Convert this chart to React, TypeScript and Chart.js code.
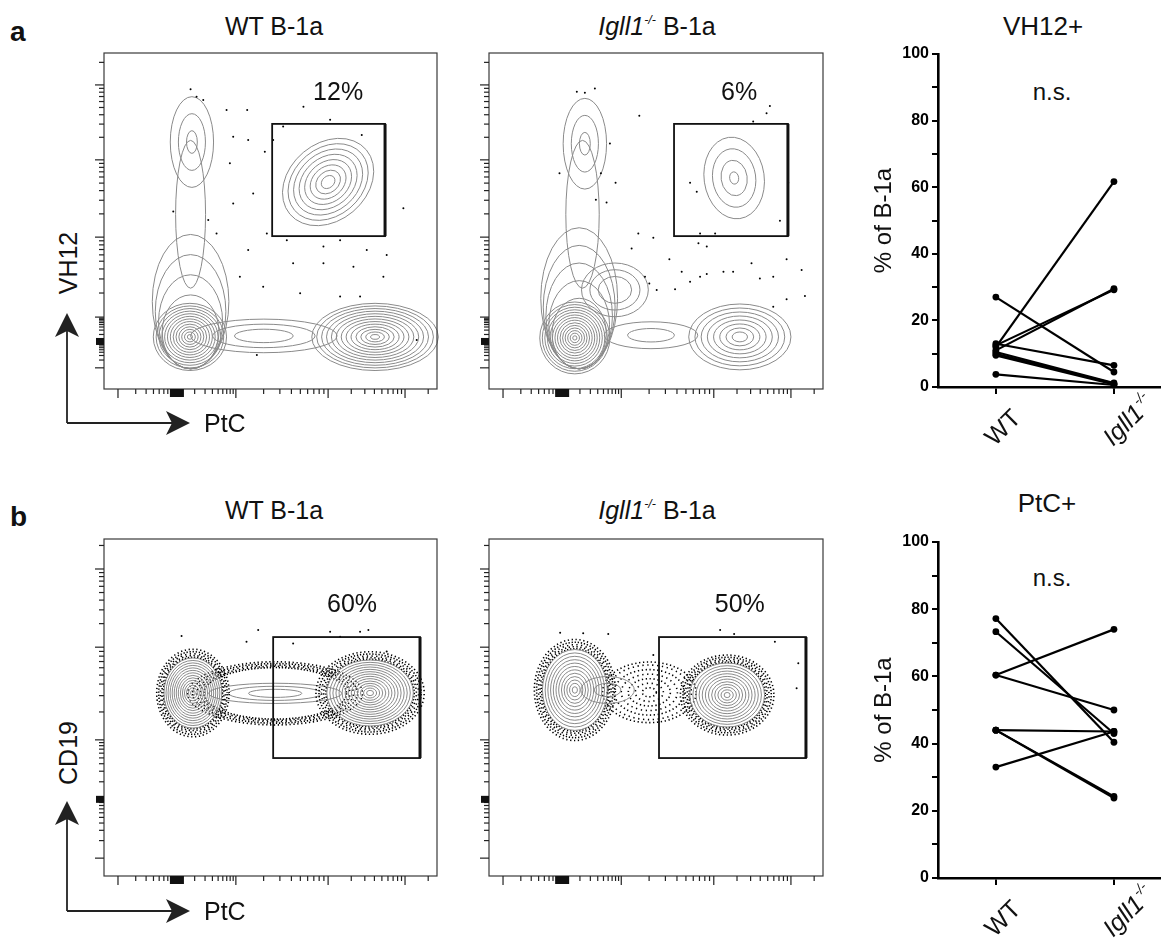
import React, { useEffect, useRef } from 'react';
import { Chart, registerables } from 'chart.js';
Chart.register(...registerables);

const FONT = '"Liberation Sans", Arial, Helvetica, sans-serif';

// ---------- paired dot plots ----------
const groupPos = [0, 1];
const groupLabels = ['WT', 'Igll1'];
const koSuffix = '-/-';
const vh12WT = [27, 12, 11, 12.5, 13, 10.5, 10, 9.5, 3.8];
const vh12KO = [4.5, 61.7, 29.5, 29.2, 6.5, 1.2, 1.0, 0.8, 0.6];
const ptcWT = [77.2, 73.3, 60.4, 60.4, 44.0, 44.0, 44.0, 33.0];
const ptcKO = [40.4, 43.0, 74.0, 50.0, 43.6, 24.3, 23.8, 43.6];
const pctTicks = [0, 10, 20, 30, 40, 50, 60, 70, 80, 90, 100];
const pctLabels = ['0', '', '20', '', '40', '', '60', '', '80', '', '100'];

// ---------- flow plots (display units 0..100 on both axes) ----------
const flowXMajor = [4.2, 39.6, 67.3, 90.4];
const flowXZero = 21.9;
const flowYMajorA = [6.3, 21.4, 45.2, 68.2, 90.5];
const flowYZeroA = 14;
const flowYMajorB = [5.3, 40.4, 67.9, 91.1];
const flowYZeroB = 22.6;

// population contours: [cx, cy, rx, ry, tiltDeg, levels, innerFrac, halo, anchor]
const popsVH12WT = [
  [26.4, 73.5, 6.5, 13.5, 0, 3, 0.25, 0, 0],
  [26.0, 52.0, 4.5, 22.0, 0, 1, 1, 0, 0],
  [26.0, 26.0, 11.5, 20.0, 0, 4, 0.55, 0, 1],
  [25.8, 15.5, 11.0, 10.0, 0, 13, 0.07, 0, 0],
  [48.0, 15.8, 22.0, 5.0, 0, 3, 0.4, 0, 0],
  [81.4, 15.5, 19.0, 10.0, 0, 13, 0.07, 0, 0],
  [67.3, 61.6, 15.0, 11.5, 40, 8, 0.15, 0, 0],
];
const popsVH12KO = [
  [28.7, 73.0, 6.5, 13.5, 0, 3, 0.25, 0, 0],
  [28.0, 52.0, 5.0, 22.0, 0, 1, 1, 0, 0],
  [27.0, 27.0, 11.5, 21.0, 0, 5, 0.5, 0, 1],
  [37.7, 29.5, 10.0, 8.0, 0, 3, 0.5, 0, 0],
  [25.7, 15.2, 10.5, 10.7, 0, 14, 0.06, 0, 0],
  [48.5, 16.0, 14.0, 4.0, 0, 2, 0.5, 0, 0],
  [75.1, 15.5, 15.3, 9.8, 0, 8, 0.15, 0, 0],
  [73.4, 62.8, 9.0, 12.2, 8, 4, 0.15, 0, 0],
];
const popsPtcWT = [
  [51.4, 54.2, 21.0, 7.5, 0, 0, 0, 1, 0],
  [51.4, 54.2, 20.0, 3.0, 0, 3, 0.4, 0, 0],
  [26.7, 54.3, 8.7, 10.4, 0, 14, 0.08, 1, 0],
  [79.9, 54.3, 13.0, 9.8, 0, 14, 0.08, 1, 0],
];
const popsPtcKO = [
  [48.0, 54.5, 14.0, 9.0, 0, 0, 0, 2, 0],
  [25.7, 55.2, 9.7, 12.0, 0, 12, 0.08, 1, 0],
  [35.5, 55.2, 8.0, 4.0, 0, 2, 0.5, 0, 0],
  [71.3, 53.7, 11.2, 9.5, 0, 12, 0.08, 1, 0],
];

// sparse events outside the contours: [x, y]
const dotsVH12WT = [
  [26.0, 89.2], [27.8, 87.0], [29.8, 86.0], [36.8, 83.0], [43.0, 83.0], [59.9, 84.0],
  [38.8, 75.1], [43.3, 74.1], [48.3, 70.6], [37.8, 67.2], [44.8, 58.2], [20.8, 52.8],
  [31.3, 50.3], [33.8, 46.3], [43.3, 41.4], [48.9, 46.3], [54.9, 44.3], [65.9, 42.4],
  [70.9, 44.3], [78.9, 41.4], [84.9, 39.9], [56.8, 37.4], [65.9, 37.4], [74.9, 36.4],
  [83.9, 33.4], [40.8, 33.4], [47.8, 30.4], [58.9, 28.5], [70.9, 27.5], [76.9, 27.5],
  [89.9, 53.8], [53.8, 78.1], [67.9, 80.1], [77.4, 75.6], [50.8, 74.1], [38.8, 55.2],
  [45.9, 10.1], [93.9, 14.6],
];
const dotsVH12KO = [
  [26.3, 88.5], [28.7, 88.2], [31.7, 89.4], [45.0, 81.3], [36.2, 73.1], [33.5, 64.2],
  [37.9, 61.4], [21.1, 64.2], [32.0, 56.3], [35.2, 55.5], [44.7, 46.3], [49.2, 45.0],
  [42.7, 41.8], [54.0, 38.6], [46.7, 33.4], [48.0, 31.4], [57.7, 34.9], [60.2, 31.9],
  [63.2, 33.4], [65.2, 34.2], [70.2, 34.9], [73.1, 34.9], [78.6, 37.4], [81.1, 32.9],
  [85.1, 33.4], [89.1, 38.6], [93.6, 35.4], [94.6, 27.7], [89.1, 26.7], [85.1, 24.5],
  [50.2, 29.5], [55.7, 29.7], [62.7, 43.4], [65.2, 42.4], [84.1, 84.2], [83.1, 82.1],
  [79.1, 79.6], [89.6, 61.4], [60.2, 61.4], [62.2, 58.7], [87.1, 50.1], [63.2, 46.3],
  [67.7, 46.3],
];
const dotsPtcWT = [
  [23.3, 71.2], [46.3, 73.0], [67.9, 72.5], [76.9, 72.5], [79.4, 73.0], [70.9, 71.0],
  [56.8, 69.0], [84.9, 66.6], [42.8, 69.5],
];
const dotsPtcKO = [
  [21.3, 72.2], [28.2, 72.0], [35.7, 71.8], [69.2, 73.0], [73.4, 71.8], [85.6, 69.5],
  [92.6, 63.1], [92.1, 55.7], [49.2, 65.6],
];

// gates: [xMin, xMax, yMin, yMax] and percentage labels [text, x, y]
const gateVH12WT = [50.5, 84.4, 45.5, 78.9];
const gateVH12KO = [55.4, 89.5, 45.5, 78.9];
const gatePtcWT = [50.8, 94.9, 35.0, 70.9];
const gatePtcKO = [50.9, 94.9, 35.0, 70.9];
const labelVH12WT: [string, number, number] = ['12%', 70.3, 88.0];
const labelVH12KO: [string, number, number] = ['6%', 74.9, 88.0];
const labelPtcWT: [string, number, number] = ['60%', 74.5, 80.4];
const labelPtcKO: [string, number, number] = ['50%', 75.1, 80.4];

function minorTicks(majors: number[], zero: number): number[] {
  const pts = [...majors, zero].sort((a, b) => a - b);
  const out: number[] = [];
  for (let i = 0; i < pts.length - 1; i++) {
    const lo = pts[i], hi = pts[i + 1];
    for (let k = 2; k <= 9; k++) out.push(lo + Math.log10(k) * (hi - lo));
  }
  const last = pts[pts.length - 1], prev = pts[pts.length - 2];
  for (let k = 2; k <= 9; k++) {
    const v = last + Math.log10(k) * (last - prev);
    if (v <= 100) out.push(v);
  }
  return out;
}

const PAD = 20;

type FlowProps = {
  box: { left: number; top: number; w: number; h: number };
  pops: number[][];
  dots: number[][];
  gate: number[];
  label: [string, number, number];
  yMajor: number[];
  yZero: number;
};

function FlowPlot({ box, pops, dots, gate, label, yMajor, yZero }: FlowProps) {
  const ref = useRef<HTMLCanvasElement>(null);
  useEffect(() => {
    const decor = {
      id: 'flowDecor',
      beforeDatasetsDraw(chart: any) {
        const ctx = chart.ctx as CanvasRenderingContext2D;
        const xs = chart.scales.x, ys = chart.scales.y;
        const X = (v: number) => xs.getPixelForValue(v);
        const Y = (v: number) => ys.getPixelForValue(v);
        ctx.save();
        for (const p of pops) {
          const [cx, cy, rx, ry, ang, levels, inner, halo, anchor] = p;
          const px = X(cx), py = Y(cy);
          const rpx = X(cx + rx) - px, rpy = py - Y(cy + ry);
          const rot = (-ang * Math.PI) / 180;
          if (halo) {
            ctx.strokeStyle = '#000';
            ctx.lineWidth = 1.6;
            const rings = halo === 2 ? [0.15, 0.3, 0.45, 0.6, 0.75, 0.9, 1.0] : [1.02, 1.07, 1.12, 1.18, 1.25];
            rings.forEach((f, i) => {
              ctx.setLineDash([1.3, halo === 2 ? 2.6 + (i % 2) : 1.8 + (i % 3) * 0.8]);
              ctx.lineDashOffset = i * 1.7;
              ctx.beginPath();
              ctx.ellipse(px, py, rpx * f, rpy * f, rot, 0, Math.PI * 2);
              ctx.stroke();
            });
            ctx.setLineDash([]);
          }
          ctx.strokeStyle = '#8a8a8a';
          ctx.lineWidth = 1;
          for (let i = 0; i < levels; i++) {
            const f = levels === 1 ? 1 : 1 - (i * (1 - inner)) / (levels - 1);
            let ex = rpx * f, ey = rpy * f, ecy = py;
            if (anchor === 1) {
              ex = rpx * Math.sqrt(f);
              ecy = py + rpy - rpy * f;
            }
            ctx.beginPath();
            ctx.ellipse(px, ecy, ex, ey, rot, 0, Math.PI * 2);
            ctx.stroke();
          }
        }
        ctx.restore();
      },
      afterDatasetsDraw(chart: any) {
        const ctx = chart.ctx as CanvasRenderingContext2D;
        const a = chart.chartArea;
        const xs = chart.scales.x, ys = chart.scales.y;
        const X = (v: number) => xs.getPixelForValue(v);
        const Y = (v: number) => ys.getPixelForValue(v);
        ctx.save();
        ctx.strokeStyle = '#3a3a3a';
        ctx.lineWidth = 1.2;
        ctx.strokeRect(a.left, a.top, a.right - a.left, a.bottom - a.top);
        ctx.strokeStyle = '#222';
        ctx.lineWidth = 1.2;
        const tick = (x1: number, y1: number, x2: number, y2: number) => {
          ctx.beginPath(); ctx.moveTo(x1, y1); ctx.lineTo(x2, y2); ctx.stroke();
        };
        flowXMajor.forEach((v) => tick(X(v), a.bottom, X(v), a.bottom + 9));
        minorTicks(flowXMajor, flowXZero).forEach((v) => tick(X(v), a.bottom, X(v), a.bottom + 5));
        yMajor.forEach((v) => tick(a.left - 9, Y(v), a.left, Y(v)));
        minorTicks(yMajor, yZero).forEach((v) => tick(a.left - 5, Y(v), a.left, Y(v)));
        ctx.fillStyle = '#111';
        ctx.fillRect(X(flowXZero) - 7, a.bottom, 14, 8);
        ctx.fillRect(a.left - 8, Y(yZero) - 4, 8, 7);
        const [gx1, gx2, gy1, gy2] = gate;
        ctx.strokeStyle = '#111';
        ctx.lineWidth = 1.8;
        ctx.strokeRect(X(gx1), Y(gy2), X(gx2) - X(gx1), Y(gy1) - Y(gy2));
        ctx.lineWidth = 3;
        tick(X(gx2), Y(gy2), X(gx2), Y(gy1));
        ctx.fillStyle = '#111';
        ctx.font = `25px ${FONT}`;
        ctx.textAlign = 'center';
        ctx.textBaseline = 'middle';
        ctx.fillText(label[0], X(label[1]), Y(label[2]));
        ctx.restore();
      },
    };
    const chart = new Chart(ref.current as HTMLCanvasElement, {
      type: 'scatter',
      data: {
        datasets: [
          {
            data: dots.map(([x, y]) => ({ x, y })),
            pointRadius: 1,
            pointBorderWidth: 0,
            pointBackgroundColor: '#000',
            showLine: false,
          },
        ],
      },
      options: {
        responsive: false,
        animation: false,
        events: [],
        layout: { padding: PAD },
        scales: {
          x: { type: 'linear', min: 0, max: 100, display: false },
          y: { type: 'linear', min: 0, max: 100, display: false },
        },
        plugins: { legend: { display: false }, tooltip: { enabled: false } },
      },
      plugins: [decor],
    } as any);
    return () => chart.destroy();
  }, []);
  return (
    <canvas
      ref={ref}
      width={box.w + 2 * PAD}
      height={box.h + 2 * PAD}
      style={{ position: 'absolute', left: box.left - PAD, top: box.top - PAD, width: box.w + 2 * PAD, height: box.h + 2 * PAD }}
    />
  );
}

type PairedProps = { left: number; top: number; width: number; height: number; padTop: number; axisH: number; wt: number[]; ko: number[] };

function PairedPlot({ left, top, width, height, padTop, axisH, wt, ko }: PairedProps) {
  const ref = useRef<HTMLCanvasElement>(null);
  useEffect(() => {
    const xLabels = {
      id: 'xLabels',
      afterDraw(chart: any) {
        const ctx = chart.ctx as CanvasRenderingContext2D;
        const xs = chart.scales.x;
        const bottom = chart.chartArea.bottom;
        ctx.save();
        ctx.fillStyle = '#111';
        ctx.textBaseline = 'alphabetic';
        ctx.textAlign = 'left';
        groupPos.forEach((v, i) => {
          const main = groupLabels[i];
          const isKO = i === 1;
          ctx.save();
          ctx.translate(xs.getPixelForValue(v) - 1, bottom + 60);
          ctx.rotate(-Math.PI / 4);
          ctx.font = `${isKO ? 'italic ' : ''}25px ${FONT}`;
          ctx.fillText(main, 0, 0);
          if (isKO) {
            const w1 = ctx.measureText(main).width;
            ctx.font = `italic 14px ${FONT}`;
            ctx.fillText(koSuffix, w1 + 1, -11);
          }
          ctx.restore();
        });
        ctx.restore();
      },
    };
    const chart = new Chart(ref.current as HTMLCanvasElement, {
      type: 'scatter',
      data: {
        datasets: wt.map((w, i) => ({
          data: [
            { x: groupPos[0], y: w },
            { x: groupPos[1], y: ko[i] },
          ],
          showLine: true,
          borderColor: '#000',
          borderWidth: 2.2,
          pointRadius: 3.4,
          pointBorderWidth: 0,
          pointBackgroundColor: '#000',
          clip: false,
        })),
      },
      options: {
        responsive: false,
        animation: false,
        events: [],
        layout: { padding: { top: padTop, right: 4, left: 0, bottom: 0 } },
        scales: {
          x: {
            type: 'linear',
            min: -0.49,
            max: 1.39,
            afterBuildTicks: (s: any) => {
              s.ticks = groupPos.map((value) => ({ value }));
            },
            afterFit: (s: any) => {
              s.height = axisH;
            },
            ticks: { callback: () => '', padding: 0 },
            grid: { drawOnChartArea: false, color: '#000', lineWidth: 2, tickLength: 7 },
            border: { color: '#000', width: 2.6 },
          },
          y: {
            type: 'linear',
            min: 0,
            max: 100,
            afterBuildTicks: (s: any) => {
              s.ticks = pctTicks.map((value) => ({ value }));
            },
            afterFit: (s: any) => {
              s.width = 78;
            },
            ticks: {
              autoSkip: false,
              callback: (_v: any, idx: number) => pctLabels[idx],
              color: '#000',
              font: { family: FONT, size: 16, weight: 'bold' },
              padding: 3,
            },
            grid: { drawOnChartArea: false, color: '#000', lineWidth: 2, tickLength: 6 },
            border: { color: '#000', width: 2.6 },
            title: {
              display: true,
              text: '% of B-1a',
              color: '#111',
              font: { family: FONT, size: 24 },
              padding: { top: 10, bottom: 0 },
            },
          },
        },
        plugins: { legend: { display: false }, tooltip: { enabled: false } },
      },
      plugins: [xLabels],
    } as any);
    return () => chart.destroy();
  }, []);
  return <canvas ref={ref} width={width} height={height} style={{ position: 'absolute', left, top, width, height }} />;
}

function Txt({ x, y, size, children, bold, anchor = 'center', rotate = 0 }: any) {
  const tx = anchor === 'center' ? '-50%' : '0';
  return (
    <div
      style={{
        position: 'absolute',
        left: x,
        top: y,
        fontSize: size,
        lineHeight: 1,
        fontWeight: bold ? 'bold' : 'normal',
        whiteSpace: 'nowrap',
        transform: `translate(${tx}, -50%)${rotate ? ` rotate(${rotate}deg)` : ''}`,
      }}
    >
      {children}
    </div>
  );
}

function KOTitle() {
  return (
    <span>
      <i>Igll1</i>
      <sup style={{ fontSize: '0.5em', fontStyle: 'italic', verticalAlign: 'baseline', position: 'relative', top: '-0.85em' }}>-/-</sup> B-1a
    </span>
  );
}

function Arrows({ y0 }: { y0: number }) {
  return (
    <svg width={200} height={130} style={{ position: 'absolute', left: 0, top: y0 - 118 }}>
      <g stroke="#222" strokeWidth={1.8} fill="none">
        <line x1={67} y1={118} x2={67} y2={20} />
        <line x1={67} y1={118} x2={178} y2={118} />
      </g>
      <polygon points="67,8 55,32 67,26 79,32" fill="#222" />
      <polygon points="190,118 166,106 172,118 166,130" fill="#222" />
    </svg>
  );
}

export default function App() {
  return (
    <div style={{ position: 'absolute', left: 0, top: 0, width: 1164, height: 944, background: '#fff', fontFamily: FONT, color: '#111', overflow: 'hidden' }}>
      {/* row a */}
      <Txt x={10} y={32} size={28} bold anchor="left">a</Txt>
      <Txt x={274} y={26} size={25}>WT B-1a</Txt>
      <Txt x={657} y={26} size={25}><KOTitle /></Txt>
      <Txt x={1043} y={26} size={26}>VH12+</Txt>
      <Txt x={1052} y={92} size={24}>n.s.</Txt>
      <FlowPlot box={{ left: 104, top: 53, w: 333, h: 336 }} pops={popsVH12WT} dots={dotsVH12WT} gate={gateVH12WT} label={labelVH12WT} yMajor={flowYMajorA} yZero={flowYZeroA} />
      <FlowPlot box={{ left: 489, top: 53, w: 334, h: 336 }} pops={popsVH12KO} dots={dotsVH12KO} gate={gateVH12KO} label={labelVH12KO} yMajor={flowYMajorA} yZero={flowYZeroA} />
      <PairedPlot left={860} top={0} width={304} height={460} padTop={54} axisH={73} wt={vh12WT} ko={vh12KO} />
      <Arrows y0={423} />
      <Txt x={68} y={263} size={25} rotate={-90}>VH12</Txt>
      <Txt x={204} y={423} size={25} anchor="left">PtC</Txt>

      {/* row b */}
      <Txt x={10} y={517} size={28} bold anchor="left">b</Txt>
      <Txt x={274} y={510} size={25}>WT B-1a</Txt>
      <Txt x={657} y={510} size={25}><KOTitle /></Txt>
      <Txt x={1047} y={503} size={26}>PtC+</Txt>
      <Txt x={1052} y={578} size={24}>n.s.</Txt>
      <FlowPlot box={{ left: 104, top: 539, w: 333, h: 337 }} pops={popsPtcWT} dots={dotsPtcWT} gate={gatePtcWT} label={labelPtcWT} yMajor={flowYMajorB} yZero={flowYZeroB} />
      <FlowPlot box={{ left: 489, top: 539, w: 334, h: 337 }} pops={popsPtcKO} dots={dotsPtcKO} gate={gatePtcKO} label={labelPtcKO} yMajor={flowYMajorB} yZero={flowYZeroB} />
      <PairedPlot left={860} top={484} width={304} height={460} padTop={58} axisH={66} wt={ptcWT} ko={ptcKO} />
      <Arrows y0={911} />
      <Txt x={68} y={753} size={25} rotate={-90}>CD19</Txt>
      <Txt x={204} y={911} size={25} anchor="left">PtC</Txt>
    </div>
  );
}
